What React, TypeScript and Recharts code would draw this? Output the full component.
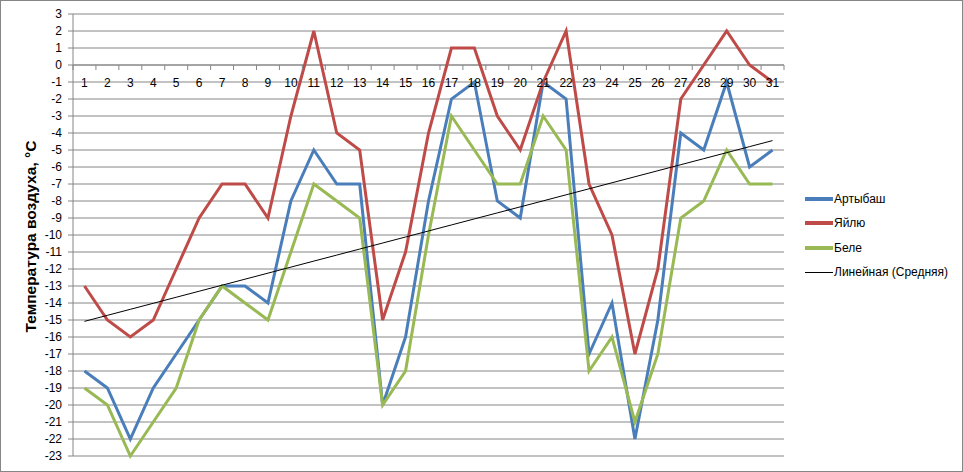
import React from 'react';
import { CartesianGrid, Legend, Line, LineChart, ReferenceLine, XAxis, YAxis } from 'recharts';

// days of the month
const days = [1, 2, 3, 4, 5, 6, 7, 8, 9, 10, 11, 12, 13, 14, 15, 16, 17, 18, 19, 20, 21, 22, 23, 24, 25, 26, 27, 28, 29, 30, 31];

// air temperature, °C
const artybash = [-18, -19, -22, -19, -17, -15, -13, -13, -14, -8, -5, -7, -7, -20, -16, -8, -2, -1, -8, -9, -1, -2, -17, -14, -22, -15, -4, -5, -1, -6, -5];
const yailyu = [-13, -15, -16, -15, -12, -9, -7, -7, -9, -3, 2, -4, -5, -15, -11, -4, 1, 1, -3, -5, -1, 2, -7, -10, -17, -12, -2, 0, 2, 0, -1];
const bele = [-19, -20, -23, -21, -19, -15, -13, -14, -15, -11, -7, -8, -9, -20, -18, -10, -3, -5, -7, -7, -3, -5, -18, -16, -21, -17, -9, -8, -5, -7, -7];

const yTicks = [3, 2, 1, 0, -1, -2, -3, -4, -5, -6, -7, -8, -9, -10, -11, -12, -13, -14, -15, -16, -17, -18, -19, -20, -21, -22, -23];

const BLUE = '#4a7ebb';
const RED = '#be4b48';
const GREEN = '#98b954';
const GRID = '#868686';
const FONT = '"Liberation Sans", Arial, sans-serif';

// linear trend of the daily mean ("Средняя")
const mean = days.map((_, i) => (artybash[i] + yailyu[i] + bele[i]) / 3);
const mx = days.reduce((s, d) => s + d, 0) / days.length;
const my = mean.reduce((s, v) => s + v, 0) / mean.length;
const slope =
    days.reduce((s, d, i) => s + (d - mx) * (mean[i] - my), 0) /
    days.reduce((s, d) => s + (d - mx) * (d - mx), 0);
const intercept = my - slope * mx;

const data = days.map((d, i) => ({
    day: String(d),
    artybash: artybash[i],
    yailyu: yailyu[i],
    bele: bele[i],
    trend: intercept + slope * d,
}));

const legendItems = [
    { name: 'Артыбаш', color: BLUE, width: 4 },
    { name: 'Яйлю', color: RED, width: 4 },
    { name: 'Беле', color: GREEN, width: 4 },
    { name: 'Линейная (Средняя)', color: '#000', width: 1 },
];

const W = 961;
const H = 470;
const X_AXIS_H = 1;
const MARGIN = { top: 13, right: 178, bottom: 14, left: 0 };
const Y_AXIS_W = 72;
const PLOT_W = W - MARGIN.right - MARGIN.left - Y_AXIS_W;
const PLOT_H = H - MARGIN.top - MARGIN.bottom - X_AXIS_H;
const Y_MAX = 3;
const Y_MIN = -23;
const BAND = PLOT_W / days.length;
// the category axis crosses the value axis at 0
const Y0 = MARGIN.top + (PLOT_H * Y_MAX) / (Y_MAX - Y_MIN);

const renderDayTick = (props: any) => {
    const { x, payload, index } = props;
    return (
        <g key={`day-${index}`}>
            {index === 0 && <line x1={x - BAND / 2} x2={x - BAND / 2} y1={Y0} y2={Y0 + 5} stroke={GRID} />}
            <line x1={x + BAND / 2} x2={x + BAND / 2} y1={Y0} y2={Y0 + 5} stroke={GRID} />
            <text x={x} y={Y0 + 22} textAnchor="middle" fontSize={12} fontFamily={FONT} fill="#000">
                {payload.value}
            </text>
        </g>
    );
};

const AxisTitle = (props: any) => {
    const vb = props.viewBox || { x: 0, y: MARGIN.top, height: PLOT_H };
    const cx = vb.x + 29;
    const cy = vb.y + vb.height / 2 + 1.5;
    return (
        <text
            x={cx}
            y={cy}
            transform={`rotate(-90 ${cx} ${cy})`}
            textAnchor="middle"
            dominantBaseline="central"
            fontSize={15.5}
            fontWeight="bold"
            fontFamily={FONT}
            fill="#000"
        >
            Температура воздуха, °C
        </text>
    );
};

const renderLegend = () => (
    <div style={{ fontFamily: FONT, fontSize: 12, color: '#000' }}>
        {legendItems.map((it) => (
            <div key={it.name} style={{ display: 'flex', alignItems: 'center', height: 24.3 }}>
                <div style={{ width: 28, height: it.width, background: it.color, marginRight: 1 }} />
                <span>{it.name}</span>
            </div>
        ))}
    </div>
);

export default function App() {
    return (
        <div style={{ width: 963, height: 472, boxSizing: 'border-box', border: `1px solid ${GRID}`, background: '#fff' }}>
            <style>{'body{margin:0}'}</style>
            <LineChart width={W} height={H} data={data} margin={MARGIN}>
                <CartesianGrid vertical={false} stroke={GRID} />
                <XAxis
                    dataKey="day"
                    scale="band"
                    height={X_AXIS_H}
                    interval={0}
                    axisLine={false}
                    tickLine={false}
                    tick={renderDayTick}
                />
                <YAxis
                    width={Y_AXIS_W}
                    domain={[Y_MIN, Y_MAX]}
                    ticks={yTicks}
                    interval={0}
                    tickSize={5}
                    tickMargin={6}
                    axisLine={{ stroke: GRID }}
                    tickLine={{ stroke: GRID }}
                    tick={{ fontSize: 12, fill: '#000', fontFamily: FONT }}
                    label={{ content: <AxisTitle /> }}
                />
                <ReferenceLine y={0} stroke={GRID} />
                <Line type="linear" dataKey="artybash" name="Артыбаш" stroke={BLUE} strokeWidth={3} dot={false} activeDot={false} isAnimationActive={false} />
                <Line type="linear" dataKey="yailyu" name="Яйлю" stroke={RED} strokeWidth={3} dot={false} activeDot={false} isAnimationActive={false} />
                <Line type="linear" dataKey="bele" name="Беле" stroke={GREEN} strokeWidth={3} dot={false} activeDot={false} isAnimationActive={false} />
                <Line type="linear" dataKey="trend" name="Линейная (Средняя)" stroke="#000" strokeWidth={1} dot={false} activeDot={false} isAnimationActive={false} />
                <Legend
                    layout="vertical"
                    align="center"
                    verticalAlign="middle"
                    wrapperStyle={{ left: 804, top: 186, width: 160 }}
                    content={renderLegend}
                />
            </LineChart>
        </div>
    );
}
